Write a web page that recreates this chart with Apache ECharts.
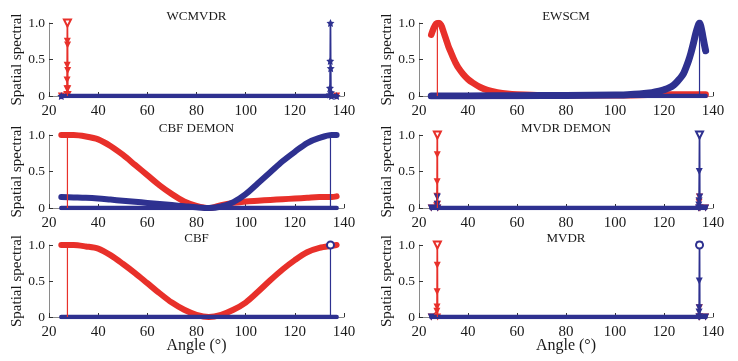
<!DOCTYPE html>
<html>
<head>
<meta charset="utf-8">
<script src="https://cdn.jsdelivr.net/npm/echarts@6/dist/echarts.min.js"></script>
<style>
  html, body { margin: 0; padding: 0; background: #fff; }
  #main { width: 738px; height: 361px; }
</style>
</head>
<body>
<div id="main"></div>
<script>
// panel titles, in grid order (left/right, top to bottom)
var panelTitles = ['WCMVDR', 'EWSCM', 'CBF DEMON', 'MVDR DEMON', 'CBF', 'MVDR'];
var xTicks = [20, 40, 60, 80, 100, 120, 140];
var yTickLabels = ['0', '0.5', '1.0'];

// true directions (stems)
var doaRed = 27.5;
var doaBlue = 134.5;
var baseAngles = [25, 137];
var baseValues = [0, 0];

// smooth beam patterns, sampled every 5 degrees
var beamAngles = [25, 30, 35, 40, 45, 50, 55, 60, 65, 70, 75, 80, 85, 90, 95, 100, 105, 110, 115, 120, 125, 130, 135, 137];
var cbfDemonRed  = [1.0, 1.0, 0.98, 0.94, 0.85, 0.73, 0.59, 0.45, 0.31, 0.19, 0.09, 0.03, 0.0, 0.04, 0.07, 0.09, 0.10, 0.11, 0.12, 0.13, 0.14, 0.15, 0.15, 0.16];
var cbfDemonBlue = [0.15, 0.145, 0.14, 0.13, 0.115, 0.10, 0.085, 0.07, 0.055, 0.04, 0.025, 0.01, 0.0, 0.02, 0.08, 0.19, 0.34, 0.49, 0.64, 0.77, 0.89, 0.96, 1.0, 1.0];
var cbfRed       = [1.0, 1.0, 0.98, 0.95, 0.86, 0.74, 0.61, 0.47, 0.33, 0.20, 0.10, 0.03, 0.0, 0.03, 0.10, 0.20, 0.35, 0.51, 0.66, 0.79, 0.90, 0.96, 0.99, 1.0];

// EWSCM
var ewRedAngles = [25, 26, 27, 28, 29, 30, 31, 32, 33, 34, 35, 36, 38, 40, 42, 45, 48, 52, 56, 60, 70, 80, 100, 120, 137];
var ewRed       = [0.84, 0.93, 0.99, 1.0, 0.97, 0.88, 0.78, 0.68, 0.60, 0.52, 0.45, 0.39, 0.30, 0.23, 0.18, 0.12, 0.08, 0.05, 0.03, 0.02, 0.01, 0.01, 0.01, 0.02, 0.02];
var ewBlueAngles = [25, 40, 60, 80, 100, 105, 110, 115, 118, 120, 122, 124, 126, 127, 128, 129, 130, 131, 132, 133, 134, 134.5, 135, 135.5, 136, 136.5, 137];
var ewBlue       = [0.0, 0.0, 0.005, 0.008, 0.012, 0.018, 0.028, 0.045, 0.065, 0.085, 0.11, 0.15, 0.22, 0.26, 0.31, 0.39, 0.48, 0.59, 0.72, 0.86, 0.97, 1.0, 0.96, 0.88, 0.79, 0.70, 0.62];

// WCMVDR spikes
var wcRedAngles  = [25, 27.2, 27.3, 27.35, 27.4, 27.45, 27.5, 27.55, 27.6, 27.65, 27.8, 137];
var wcRed        = [0, 0.02, 0.10, 0.22, 0.42, 0.75, 1.0, 0.70, 0.35, 0.10, 0.02, 0];
var wcBlueAngles = [25, 134.2, 134.3, 134.4, 134.5, 134.6, 134.7, 134.9, 137];
var wcBlue       = [0, 0.02, 0.11, 0.48, 1.0, 0.38, 0.05, 0.0, 0];

// MVDR DEMON spikes
var mdRedAngles  = [25, 27.2, 27.3, 27.4, 27.45, 27.5, 27.55, 27.7, 134.2, 134.3, 134.45, 134.6, 137];
var mdRed        = [0, 0.03, 0.16, 0.36, 0.73, 1.0, 0.05, 0.0, 0.0, 0.08, 0.15, 0.0, 0];
var mdBlueAngles = [25, 27.4, 27.5, 27.6, 134.1, 134.2, 134.3, 134.4, 134.5, 134.6, 134.7, 137];
var mdBlue       = [0, 0.05, 0.15, 0.0, 0.0, 0.04, 0.10, 0.50, 1.0, 0.15, 0.0, 0];

// MVDR spikes
var mvRedAngles  = [25, 27.3, 27.35, 27.4, 27.45, 27.5, 27.6, 134.4, 134.45, 134.5, 137];
var mvRed        = [0, 0.08, 0.14, 0.35, 0.72, 1.0, 0.0, 0.0, 0.13, 0.0, 0];
var mvBlueAngles = [25, 134.2, 134.3, 134.35, 134.4, 134.5, 134.6, 137];
var mvBlue       = [0, 0.0, 0.07, 0.13, 0.50, 1.0, 0.0, 0];

var RED = '#e8302a';
var BLUE = '#2e3190';
var FONT = 'Liberation Serif';
var STAR = 'path://M0,-10 L2.9,-4 9.5,-3.1 4.7,1.5 5.9,8.1 0,5 -5.9,8.1 -4.7,1.5 -9.5,-3.1 -2.9,-4 Z';

var chart = echarts.init(document.getElementById('main'));

var colLeft = [49, 419];
var colWidth = [295, 294];
var rowTop = [23, 135, 245];
var rowHeight = [73, 73, 72];

var grids = [], xAxes = [], yAxes = [], titles = [];
for (var i = 0; i < 6; i++) {
    var c = i % 2, r = Math.floor(i / 2);
    grids.push({ left: colLeft[c], top: rowTop[r], width: colWidth[c], height: rowHeight[r] });
    xAxes.push({
        gridIndex: i, type: 'value', min: xTicks[0], max: xTicks[xTicks.length - 1], interval: 20,
        axisLine: { show: true, lineStyle: { color: '#8a8a8a', width: 1 } },
        axisTick: { show: true, inside: true, length: 4, lineStyle: { color: '#333' } },
        axisLabel: { fontFamily: FONT, fontSize: 15, color: '#1a1a1a', margin: 8 },
        splitLine: { show: false },
        name: r === 2 ? 'Angle (°)' : '', nameLocation: 'middle', nameGap: 21,
        nameMoveOverlap: false,
        nameTextStyle: { fontFamily: FONT, fontSize: 16, color: '#1a1a1a' }
    });
    yAxes.push({
        gridIndex: i, type: 'value', min: 0, max: 1, interval: 0.5,
        axisLine: { show: true, lineStyle: { color: '#8a8a8a', width: 1 } },
        axisTick: { show: true, inside: true, length: 4, lineStyle: { color: '#333' } },
        axisLabel: {
            fontFamily: FONT, fontSize: 13.5, color: '#1a1a1a', margin: 4,
            formatter: function (v) { return yTickLabels[Math.round(v * 2)]; }
        },
        splitLine: { show: false },
        name: 'Spatial spectral', nameLocation: 'middle', nameGap: 24,
        nameMoveOverlap: false,
        nameTextStyle: { fontFamily: FONT, fontSize: 15, color: '#1a1a1a' }
    });
    titles.push({
        text: panelTitles[i], left: colLeft[c] + colWidth[c] / 2, top: rowTop[r] - 13,
        textAlign: 'center', padding: 0,
        textStyle: { fontFamily: FONT, fontSize: 13, fontWeight: 'normal', color: '#1a1a1a' }
    });
}

function zip(xs, ys) {
    return xs.map(function (x, k) { return [x, ys[k]]; });
}

// thick spectrum curve (dense markers look)
function thick(gi, xs, ys, color, z, w) {
    return {
        type: 'line', xAxisIndex: gi, yAxisIndex: gi, data: zip(xs, ys),
        smooth: 0.3, showSymbol: false, z: z,
        lineStyle: { color: color, width: w || 6, cap: 'round', join: 'round' },
        itemStyle: { color: color }, animation: false
    };
}

// spiky curve with visible markers
function spiky(gi, xs, ys, color, symbol, size, rot, z) {
    return {
        type: 'line', xAxisIndex: gi, yAxisIndex: gi, data: zip(xs, ys),
        showSymbol: true, showAllSymbol: true, symbol: symbol, symbolSize: size, symbolRotate: rot, z: z,
        lineStyle: { color: color, width: 1.6 },
        itemStyle: { color: color }, animation: false
    };
}

function baseline(gi) {
    return {
        type: 'line', xAxisIndex: gi, yAxisIndex: gi, data: zip(baseAngles, baseValues),
        showSymbol: false, z: 5,
        lineStyle: { color: BLUE, width: 4.5, cap: 'round' }, animation: false
    };
}

function stem(gi, x, color, topSymbol, rot) {
    return {
        type: 'line', xAxisIndex: gi, yAxisIndex: gi,
        data: [{ value: [x, 0], symbol: 'none' },
               { value: [x, 1], symbol: topSymbol, symbolRotate: rot }],
        showSymbol: true, showAllSymbol: true, symbolSize: 7, z: 6,
        lineStyle: { color: color, width: 1.2 },
        itemStyle: { color: color, borderColor: color, borderWidth: 1.2 }, animation: false
    };
}

var series = [
    // WCMVDR
    spiky(0, wcRedAngles, wcRed, RED, 'triangle', 7, 180, 3),
    spiky(0, wcBlueAngles, wcBlue, BLUE, STAR, 8, 0, 4),
    baseline(0),
    stem(0, doaRed, RED, 'emptyTriangle', 180),
    stem(0, doaBlue, BLUE, 'none', 0),
    // EWSCM
    thick(1, ewRedAngles, ewRed, RED, 3, 6.5),
    baseline(1),
    thick(1, ewBlueAngles, ewBlue, BLUE, 5, 7),
    stem(1, doaRed, RED, 'none', 0),
    stem(1, doaBlue, BLUE, 'none', 0),
    // CBF DEMON
    thick(2, beamAngles, cbfDemonRed, RED, 3),
    thick(2, beamAngles, cbfDemonBlue, BLUE, 4),
    baseline(2),
    stem(2, doaRed, RED, 'none', 0),
    stem(2, doaBlue, BLUE, 'none', 0),
    // MVDR DEMON
    spiky(3, mdRedAngles, mdRed, RED, 'triangle', 7, 180, 3),
    spiky(3, mdBlueAngles, mdBlue, BLUE, 'triangle', 7, 180, 4),
    baseline(3),
    stem(3, doaRed, RED, 'emptyTriangle', 180),
    stem(3, doaBlue, BLUE, 'emptyTriangle', 180),
    // CBF
    baseline(4),
    thick(4, beamAngles, cbfRed, RED, 4),
    stem(4, doaRed, RED, 'none', 0),
    stem(4, doaBlue, BLUE, 'emptyCircle', 0),
    // MVDR
    spiky(5, mvRedAngles, mvRed, RED, 'triangle', 7, 180, 3),
    spiky(5, mvBlueAngles, mvBlue, BLUE, 'triangle', 7, 180, 4),
    baseline(5),
    stem(5, doaRed, RED, 'emptyTriangle', 180),
    stem(5, doaBlue, BLUE, 'emptyCircle', 0)
];

chart.setOption({
    animation: false,
    backgroundColor: '#fff',
    title: titles,
    grid: grids,
    xAxis: xAxes,
    yAxis: yAxes,
    series: series
});
</script>
</body>
</html>
